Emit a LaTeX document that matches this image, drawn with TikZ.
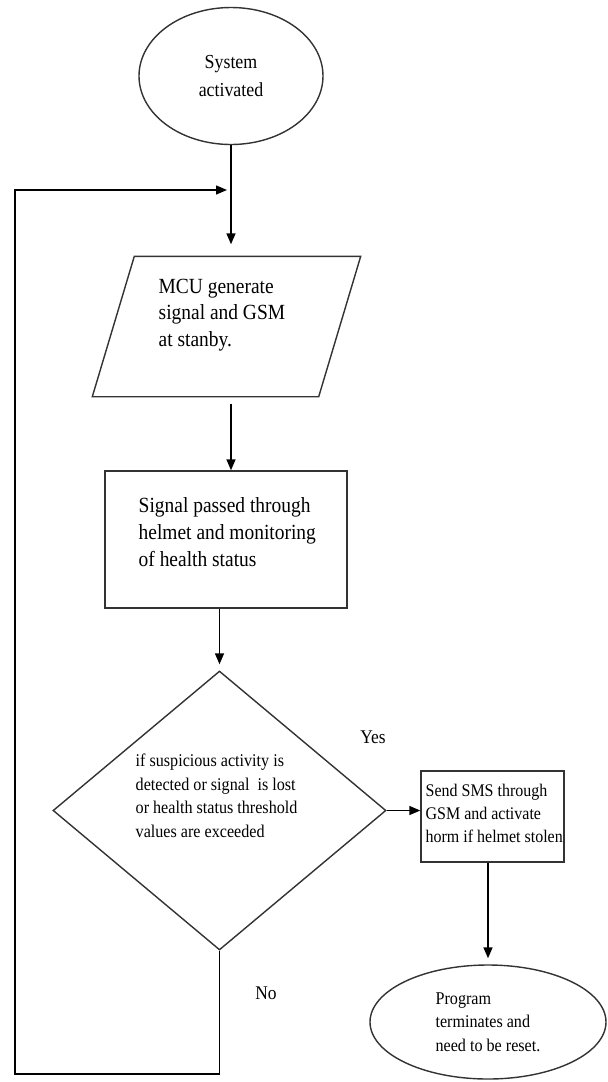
\documentclass[tikz,border=0pt]{standalone}
\usepackage{fontspec}
\setmainfont{Liberation Serif}[FakeStretch=0.9]
\usepackage{tikz}
\usetikzlibrary{arrows.meta, shapes.geometric, positioning}

\begin{document}
\begin{tikzpicture}[on grid, line width=0.8pt,
    term/.style={ellipse, draw=black!80, inner sep=0pt, align=center},
    io/.style={rectangle, inner sep=0pt, minimum width=5.34cm, minimum height=2.78cm},
    proc/.style={rectangle, draw=black!80, inner sep=0pt},
    dec/.style={diamond, draw=black!80, inner sep=0pt, minimum width=6.66cm, minimum height=5.58cm},
    bigtxt/.style={anchor=north west, inner sep=0pt, align=left, font=\fontsize{12.3}{15.2}\selectfont},
    smalltxt/.style={anchor=north west, inner sep=0pt, align=left, font=\fontsize{10.2}{13.5}\selectfont},
    flow/.style={draw=black, -{Triangle[length=0.22cm, width=0.18cm]}}]

            \useasboundingbox (0,0) rectangle (12.14,-21.64);

            \node[term, minimum width=3.68cm, minimum height=2.74cm, font=\fontsize{11.3}{15.9}\selectfont] (Start) at (4.62,-1.52) {System\\activated};
            \node[io, below=5.01cm of Start, xshift=-0.09cm] (Gen) {};
            \draw[draw=black!80] ([xshift=0.84cm]Gen.north west) -- (Gen.north east) -- ([xshift=-0.84cm]Gen.south east) -- (Gen.south west) -- cycle;
            \node[proc, minimum width=4.84cm, minimum height=2.74cm, below=4.26cm of Gen, xshift=-0.01cm] (Mon) {};
            \node[dec, below=5.42cm of Mon, xshift=-0.13cm] (Chk) {};
            \node[proc, minimum width=2.86cm, minimum height=1.82cm, right=5.46cm of Chk, yshift=-0.12cm] (Alarm) {};
            \node[term, minimum width=4.72cm, minimum height=2.28cm, below=4.11cm of Alarm, xshift=-0.09cm, align=left, font=\fontsize{10.2}{13.4}\selectfont] (Stop) {Program\\terminates and\\need to be reset.};

            \node[bigtxt] (GenT) at (3.16,-5.56) {MCU generate\\signal and GSM\\at stanby.};
            \node[bigtxt] (MonT) at (2.76,-9.94) {Signal passed through\\helmet and monitoring\\of health status};
            \node[smalltxt] (ChkT) at (2.70,-15.06) {if suspicious activity is\\detected or signal\ \ is lost\\or health status threshold\\values are exceeded};
            \node[smalltxt, font=\fontsize{10.1}{13.1}\selectfont] (AlarmT) at (8.50,-15.66) {Send SMS through\\GSM and activate\\horm if helmet stolen};
            \node[font=\fontsize{11}{13}\selectfont] (Yes) at (7.46,-14.74) {Yes};
            \node[font=\fontsize{11}{13}\selectfont] (No) at (5.32,-19.86) {No};

            \coordinate (Merge) at (4.54,-3.80);
            \coordinate (Low) at (0.30,-21.48);

            \draw[flow, shorten >=0.24cm] (Start) -- (Start |- Gen.north);
            \draw[flow] (Chk.south) |- (Low) |- (Merge);
            \draw[flow, shorten <=0.14cm] (Gen.south -| Start) -- (Mon.north -| Start);
            \draw[flow, shorten >=0.12cm] (Mon.south -| Chk) -- (Chk.north);
            \draw[flow] (Chk.east) -- (Chk.east -| Alarm.west);
            \draw[flow, shorten >=0.12cm] ([xshift=-0.09cm]Alarm.south) -- (Stop.north);

        \end{tikzpicture}
\end{document}
